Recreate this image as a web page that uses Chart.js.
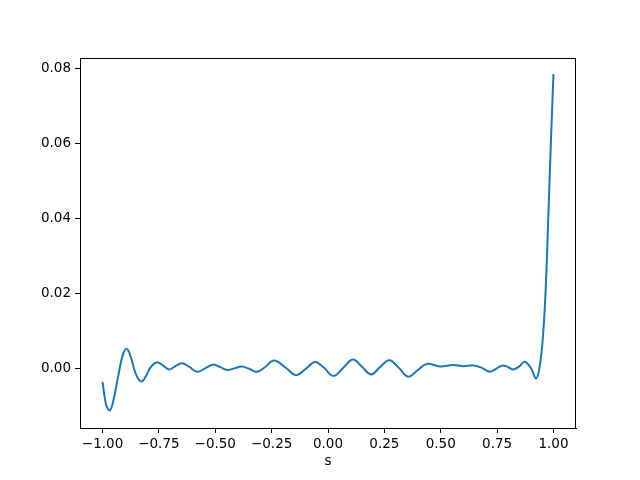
<!DOCTYPE html>
<html>
<head>
<meta charset="utf-8">
<script src="https://cdn.jsdelivr.net/npm/chart.js@4"></script>
<style>
  html, body { margin: 0; padding: 0; background: #fff; }
  #wrap { width: 640px; height: 480px; }
</style>
</head>
<body>
<div id="wrap"><canvas id="chart" width="640" height="480"></canvas></div>
<script>
// values
const sValues = [
  -1.0, -0.992, -0.982, -0.968, -0.954, -0.93, -0.91, -0.892, -0.875, -0.855,
  -0.838, -0.824, -0.808, -0.79, -0.772, -0.755, -0.73, -0.704, -0.68, -0.648,
  -0.615, -0.58, -0.545, -0.511, -0.48, -0.447, -0.415, -0.383, -0.35, -0.315,
  -0.28, -0.24, -0.19, -0.142, -0.10, -0.058, -0.02, 0.024, 0.067, 0.110,
  0.15, 0.191, 0.232, 0.272, 0.315, 0.356, 0.397, 0.438, 0.497, 0.556,
  0.600, 0.645, 0.68, 0.719, 0.75, 0.775, 0.80, 0.822, 0.85, 0.872,
  0.90, 0.923, 0.94, 0.955, 0.967, 0.977, 0.989, 1.0
];
const errValues = [
  -0.0037, -0.0072, -0.0102, -0.0113, -0.0092, -0.002, 0.0035, 0.0051, 0.003, -0.0012,
  -0.0032, -0.0035, -0.0022, -0.0001, 0.0011, 0.0015, 0.0006, -0.0004, 0.0004, 0.0013,
  0.0003, -0.001, -0.0001, 0.0009, 0.0003, -0.0005, -0.0001, 0.0004, -0.0002, -0.001,
  0.0002, 0.002, 0.0002, -0.0019, -0.0003, 0.0016, 0.0002, -0.0021, 0.0, 0.0023,
  0.0004, -0.0017, 0.0003, 0.0021, 0.0, -0.0023, -0.0006, 0.0011, 0.0004, 0.0008,
  0.0005, 0.0007, 0.0001, -0.001, 0.0, 0.0007, 0.0002, -0.0004, 0.0005, 0.0017,
  0.0, -0.0028, 0.0008, 0.0097, 0.023, 0.040, 0.0608, 0.0784
];
const xTicks = [-1.0, -0.75, -0.5, -0.25, 0.0, 0.25, 0.5, 0.75, 1.0];
const yTicks = [0.0, 0.02, 0.04, 0.06, 0.08];

const points = sValues.map((s, i) => ({ x: s, y: errValues[i] }));

// matplotlib style labels use a real minus sign
const fmt = (v) => (v < 0 ? "\u2212" : "") + Math.abs(v).toFixed(2);

// matplotlib-like full frame around the plot area
const frame = {
  id: "frame",
  afterDraw(c) {
    const a = c.chartArea, ctx = c.ctx;
    ctx.save();
    ctx.strokeStyle = "#000";
    ctx.lineWidth = 1;
    ctx.strokeRect(a.left + 0.5, a.top + 0.5, a.right - a.left - 1, a.bottom - a.top);
    ctx.restore();
  }
};

const font = { family: "DejaVu Sans", size: 13.5 };

new Chart(document.getElementById("chart").getContext("2d"), {
  type: "line",
  data: {
    datasets: [{
      data: points,
      borderColor: "#1f77b4",
      borderWidth: 2,
      pointRadius: 0,
      tension: 0.4,
      fill: false
    }]
  },
  options: {
    responsive: false,
    animation: false,
    layout: { padding: { left: 0, top: 58, right: 64, bottom: 0 } },
    plugins: { legend: { display: false }, tooltip: { enabled: false } },
    scales: {
      x: {
        type: "linear",
        min: -1.1,
        max: 1.1,
        afterBuildTicks: (ax) => { ax.ticks = xTicks.map(v => ({ value: v })); },
        afterFit: (ax) => { ax.height = 52; },
        ticks: { color: "#000", font, padding: 3, maxRotation: 0, callback: fmt },
        grid: { drawOnChartArea: false, drawTicks: true, tickLength: 5, tickColor: "#000" },
        border: { display: true, color: "#000" },
        title: { display: true, text: "s", color: "#000", font, padding: { top: 0, bottom: 10 } }
      },
      y: {
        type: "linear",
        min: -0.016,
        max: 0.0827,
        afterBuildTicks: (ax) => { ax.ticks = yTicks.map(v => ({ value: v })); },
        afterFit: (ax) => { ax.width = 80; },
        ticks: { color: "#000", font, padding: 4, callback: fmt },
        grid: { drawOnChartArea: false, drawTicks: true, tickLength: 5, tickColor: "#000" },
        border: { display: true, color: "#000" }
      }
    }
  },
  plugins: [frame]
});
</script>
</body>
</html>
